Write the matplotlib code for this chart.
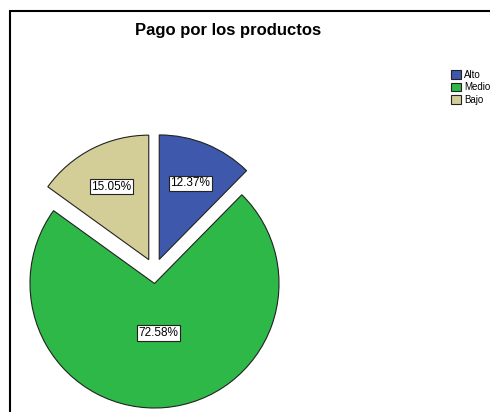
import numpy as np
import matplotlib
matplotlib.use("Agg")
import matplotlib.pyplot as plt
from matplotlib.patches import Rectangle

plt.rcParams['font.family'] = ['Liberation Sans', 'DejaVu Sans']

categories = ["Alto", "Medio", "Bajo"]
values = [12.37, 72.58, 15.05]
colors = ["#3E58AC", "#2EB848", "#D3CE97"]
exploded = [True, False, True]
title = "Pago por los productos"

#%%

fig = plt.figure(figsize=(4.9, 4.12), dpi=100)
ax = fig.add_axes([0, 0, 1, 1])

wedges, _ = ax.pie(values, colors=colors, startangle=90, counterclock=False,
                   radius=1, wedgeprops=dict(edgecolor="#222222", linewidth=0.8))

# SPSS-like explode: pulled out mostly upwards
shift = 0.197
for w, e, v in zip(wedges, exploded, values):
    mid_deg = ((w.theta1 + w.theta2) / 2) % 360
    mid = np.deg2rad(mid_deg)
    if e:
        d = np.deg2rad(90 + (mid_deg - 90) * 0.5)
        cx, cy = shift * np.cos(d), shift * np.sin(d)
        w.set_center((cx, cy))
        r = 0.66
    else:
        cx, cy = 0, 0
        r = 0.4
    ax.text(cx + r * np.cos(mid), cy + r * np.sin(mid), "%.2f%%" % v,
            ha="center", va="center", fontsize=8.5,
            bbox=dict(boxstyle="square,pad=0.15", fc="white", ec="#222222", lw=0.8))

scale = 124.5
ax.set_xlim(-154.5 / scale, (490 - 154.5) / scale)
ax.set_ylim((283.5 - 412) / scale, 283.5 / scale)
ax.set_aspect("auto")
ax.axis("off")

fig.text(228.5 / 490, 1 - 31 / 412, title, ha="center", va="center",
         fontsize=12, fontweight="bold")

leg = fig.legend(wedges, categories, loc="upper left",
                 bbox_to_anchor=(444 / 490, 1 - 63 / 412), frameon=False,
                 fontsize=7, handlelength=1.0, handleheight=1.0,
                 handletextpad=0.4, labelspacing=0.25, borderpad=0.2)

fig.patches.append(Rectangle((10 / 490, -0.1), 1.2, 1 - 11 / 412 + 0.1,
                             transform=fig.transFigure, fill=False,
                             edgecolor="black", linewidth=1.5))

fig.savefig("out.png", dpi=100)
